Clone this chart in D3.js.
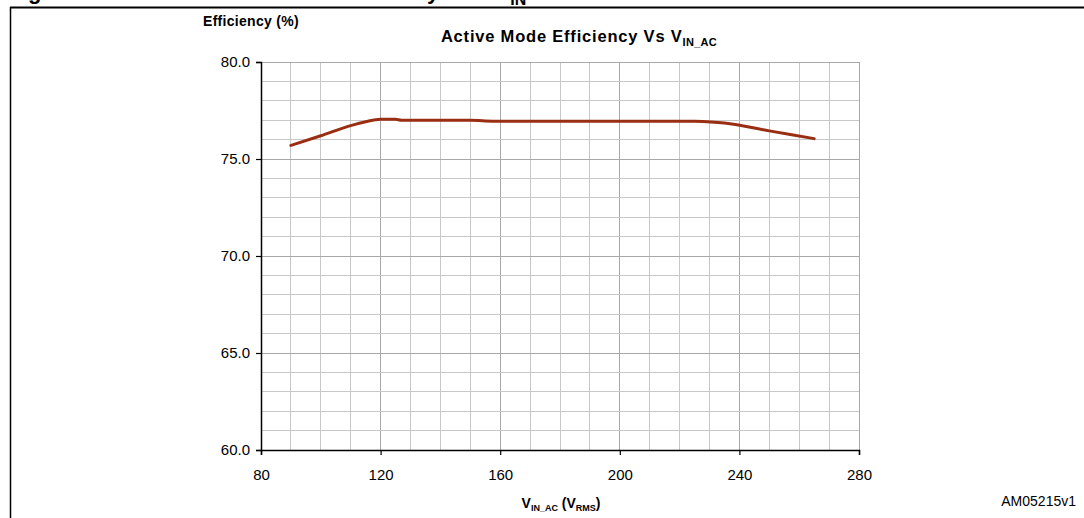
<!DOCTYPE html>
<html><head><meta charset="utf-8">
<script src="https://cdn.jsdelivr.net/npm/d3@7"></script>
<style>
body{margin:0;background:#fff;}
svg{display:block;font-family:Arial,"Liberation Sans",sans-serif;}
</style></head>
<body><svg id="c" width="1084" height="518"></svg>
<script>
const vin = [90, 100, 110, 115, 120, 125, 127, 150, 155, 160, 180, 200, 220, 225, 235, 250, 265];
const efficiency = [75.7, 76.2, 76.72, 76.92, 77.05, 77.05, 77.0, 77.0, 76.96, 76.95, 76.95, 76.95, 76.95, 76.94, 76.85, 76.45, 76.05];
const xTicks = [80, 120, 160, 200, 240, 280];
const yTicks = [60, 65, 70, 75, 80];

const svg = d3.select("#c");
const x = d3.scaleLinear().domain([80, 280]).range([261, 859]);
const y = d3.scaleLinear().domain([60, 80]).range([450, 62]);

// frame
svg.append("line").attr("x1",10).attr("x2",1084).attr("y1",7.5).attr("y2",7.5).attr("stroke","#000").attr("stroke-width",2);
svg.append("line").attr("x1",10.5).attr("x2",10.5).attr("y1",7).attr("y2",518).attr("stroke","#000").attr("stroke-width",1.5);

// caption of the figure, cut off by the top edge as in the reference
const cap = svg.append("text").attr("x",2).attr("y",-1).attr("font-size",22).attr("font-weight","bold").attr("fill","#000");
cap.append("tspan").text("Figure 6. Active mode efficiency vs V").attr("textLength",505).attr("lengthAdjust","spacing");
cap.append("tspan").text("IN").attr("font-size",16).attr("dy",6);

// grid
const g = svg.append("g");
d3.range(80, 281, 10).forEach(v => {
  g.append("line").attr("x1",x(v)).attr("x2",x(v)).attr("y1",62).attr("y2",450)
   .attr("stroke", v % 40 === 0 ? "#a8a8a8" : "#c8c8c8").attr("stroke-width",1).attr("shape-rendering","crispEdges");
});
d3.range(60, 80.5, 1).forEach(v => {
  g.append("line").attr("x1",261).attr("x2",859).attr("y1",y(v)).attr("y2",y(v))
   .attr("stroke", v % 5 === 0 ? "#a8a8a8" : "#c8c8c8").attr("stroke-width",1).attr("shape-rendering","crispEdges");
});

// axes
const xa = svg.append("g").attr("transform","translate(0,450)")
  .call(d3.axisBottom(x).tickValues(xTicks).tickSize(5).tickPadding(14).tickFormat(d3.format("d")));
const ya = svg.append("g").attr("transform","translate(261,0)")
  .call(d3.axisLeft(y).tickValues(yTicks).tickSize(5).tickPadding(6).tickFormat(d3.format(".1f")));
[xa, ya].forEach(a => {
  a.select(".domain").attr("stroke","#000").attr("stroke-width",1.5);
  a.selectAll(".tick line").attr("stroke","#000").attr("stroke-width",1.2);
  a.selectAll("text").attr("font-size",15).attr("fill","#000").attr("font-family","Arial, 'Liberation Sans', sans-serif");
});

// line
svg.append("path").datum(vin.map((v,i)=>[v, efficiency[i]]))
  .attr("fill","none").attr("stroke","#9a2e12").attr("stroke-width",3)
  .attr("stroke-linejoin","round").attr("stroke-linecap","round")
  .attr("d", d3.line().x(d=>x(d[0])).y(d=>y(d[1])).curve(d3.curveMonotoneX));

// labels
svg.append("text").attr("x",203).attr("y",26).attr("font-size",14).attr("font-weight","bold").attr("letter-spacing",0.3).text("Efficiency (%)");
const t = svg.append("text").attr("x",579).attr("y",42).attr("text-anchor","middle").attr("font-size",16.5).attr("font-weight","bold").attr("letter-spacing",0.8);
t.append("tspan").text("Active Mode Efficiency Vs V");
t.append("tspan").text("IN_AC").attr("font-size",11).attr("dy",4).attr("letter-spacing",0.3);

const xl = svg.append("text").attr("x",561).attr("y",508).attr("text-anchor","middle").attr("font-size",14).attr("font-weight","bold");
xl.append("tspan").text("V");
xl.append("tspan").text("IN_AC").attr("font-size",9).attr("dy",3);
xl.append("tspan").text(" (V").attr("dy",-3);
xl.append("tspan").text("RMS").attr("font-size",9).attr("dy",3);
xl.append("tspan").text(")").attr("dy",-3);

svg.append("text").attr("x",1076).attr("y",506).attr("text-anchor","end").attr("font-size",14).text("AM05215v1");
</script></body></html>
